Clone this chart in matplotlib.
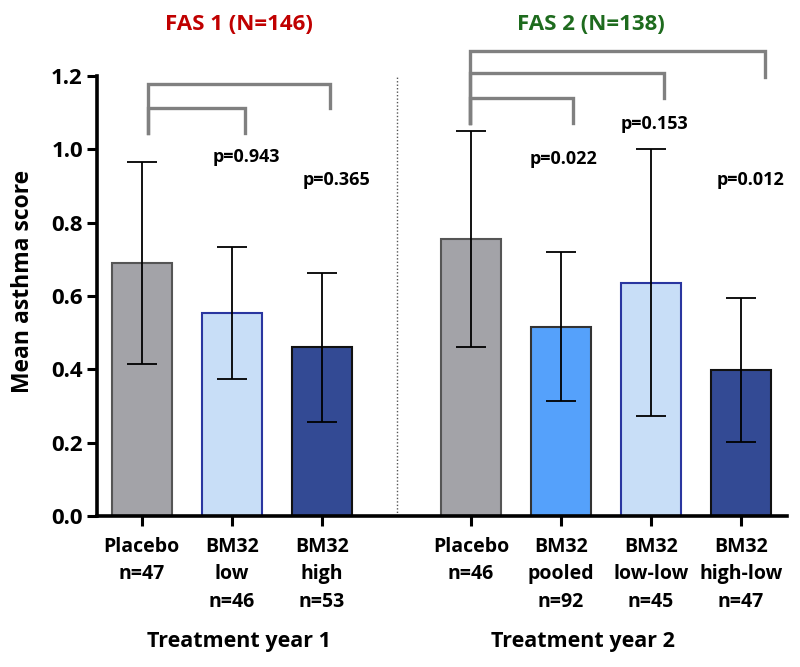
import matplotlib
matplotlib.use("Agg")
import matplotlib.pyplot as plt
import numpy as np

plt.rcParams["font.family"] = ["Open Sans", "DejaVu Sans"]
plt.rcParams["font.weight"] = "bold"

# data
labels = ["Placebo\nn=47", "BM32\nlow\nn=46", "BM32\nhigh\nn=53",
          "Placebo\nn=46", "BM32\npooled\nn=92", "BM32\nlow-low\nn=45", "BM32\nhigh-low\nn=47"]
means = [0.691, 0.554, 0.462, 0.755, 0.516, 0.636, 0.398]
ci_low = [0.415, 0.374, 0.256, 0.460, 0.314, 0.273, 0.202]
ci_high = [0.966, 0.734, 0.664, 1.050, 0.719, 1.001, 0.595]
positions = [0, 1, 2, 3.656, 4.656, 5.656, 6.656]
fills = ["#A3A3A8", "#C8DEF7", "#334A94", "#A3A3A8", "#55A1FB", "#C8DEF7", "#334A94"]
edges = ["#555555", "#2A36A0", "#111111", "#555555", "#333333", "#2A36A0", "#111111"]

p_values = ["p=0.943", "p=0.365", "p=0.022", "p=0.153", "p=0.012"]
p_pos = [(1.16, 0.98), (2.16, 0.916), (4.69, 0.973), (5.7, 1.069), (6.76, 0.916)]

# brackets: (x_left, x_right, y_top, y_left_bottom, y_right_bottom)
brackets = [
    (0.067, 1.15, 1.113, 1.045, 1.045),
    (0.067, 2.09, 1.178, 1.045, 1.113),
    (3.644, 4.79, 1.139, 1.073, 1.073),
    (3.644, 5.80, 1.207, 1.073, 1.141),
    (3.644, 6.92, 1.268, 1.073, 1.198),
]

fig = plt.figure(figsize=(8, 6.67), dpi=100)
ax = fig.add_axes([0.121, 0.2264, 0.863, 0.6597])

means_a = np.array(means)
yerr = [means_a - np.array(ci_low), np.array(ci_high) - means_a]
ax.bar(positions, means, width=0.667, color=fills, edgecolor=edges, linewidth=1.5, zorder=2)
ax.errorbar(positions, means, yerr=yerr, fmt="none", ecolor="black", elinewidth=1.3,
            capsize=10.5, capthick=1.3, zorder=3)

for xl, xr, yt, ybl, ybr in brackets:
    ax.plot([xl, xl, xr, xr], [ybl, yt, yt, ybr], color="#808080", lw=2.4,
            solid_joinstyle="miter", clip_on=False, zorder=4)

for txt, (px, py) in zip(p_values, p_pos):
    ax.text(px, py, txt, ha="center", va="center", fontsize=13, fontweight="bold")

ax.axvline(2.83, color="#555555", lw=1, ls=(0, (1, 1.5)), ymax=1.0, zorder=1)

ax.set_xlim(-0.5, 7.17)
ax.set_ylim(0, 1.2)
ax.set_yticks(np.arange(0, 1.21, 0.2))
ax.set_yticklabels([f"{v:.1f}" for v in np.arange(0, 1.21, 0.2)], fontsize=16, fontweight="bold")
ax.set_xticks(positions)
ax.set_xticklabels(labels, fontsize=14, fontweight="bold", va="top", linespacing=1.5)
ax.tick_params(axis="both", direction="out", width=2.2, length=7, color="black")
ax.tick_params(axis="x", pad=8)
ax.tick_params(axis="y", pad=3)
for s in ["top", "right"]:
    ax.spines[s].set_visible(False)
for s in ["left", "bottom"]:
    ax.spines[s].set_linewidth(2.6)

ax.set_ylabel("Mean asthma score", fontsize=16.5, fontweight="bold")
ax.yaxis.set_label_coords(-0.09, 0.534)

fig.text(239 / 800, 1 - 642 / 667, "Treatment year 1", ha="center", va="center",
         fontsize=15.5, fontweight="bold")
fig.text(583 / 800, 1 - 642 / 667, "Treatment year 2", ha="center", va="center",
         fontsize=15.5, fontweight="bold")
fig.text(239 / 800, 1 - 25 / 667, "FAS 1 (N=146)", ha="center", va="center",
         fontsize=16, fontweight="bold", color="#C00000")
fig.text(591 / 800, 1 - 25 / 667, "FAS 2 (N=138)", ha="center", va="center",
         fontsize=16, fontweight="bold", color="#1E6B1E")

fig.savefig("out.png", dpi=100)
